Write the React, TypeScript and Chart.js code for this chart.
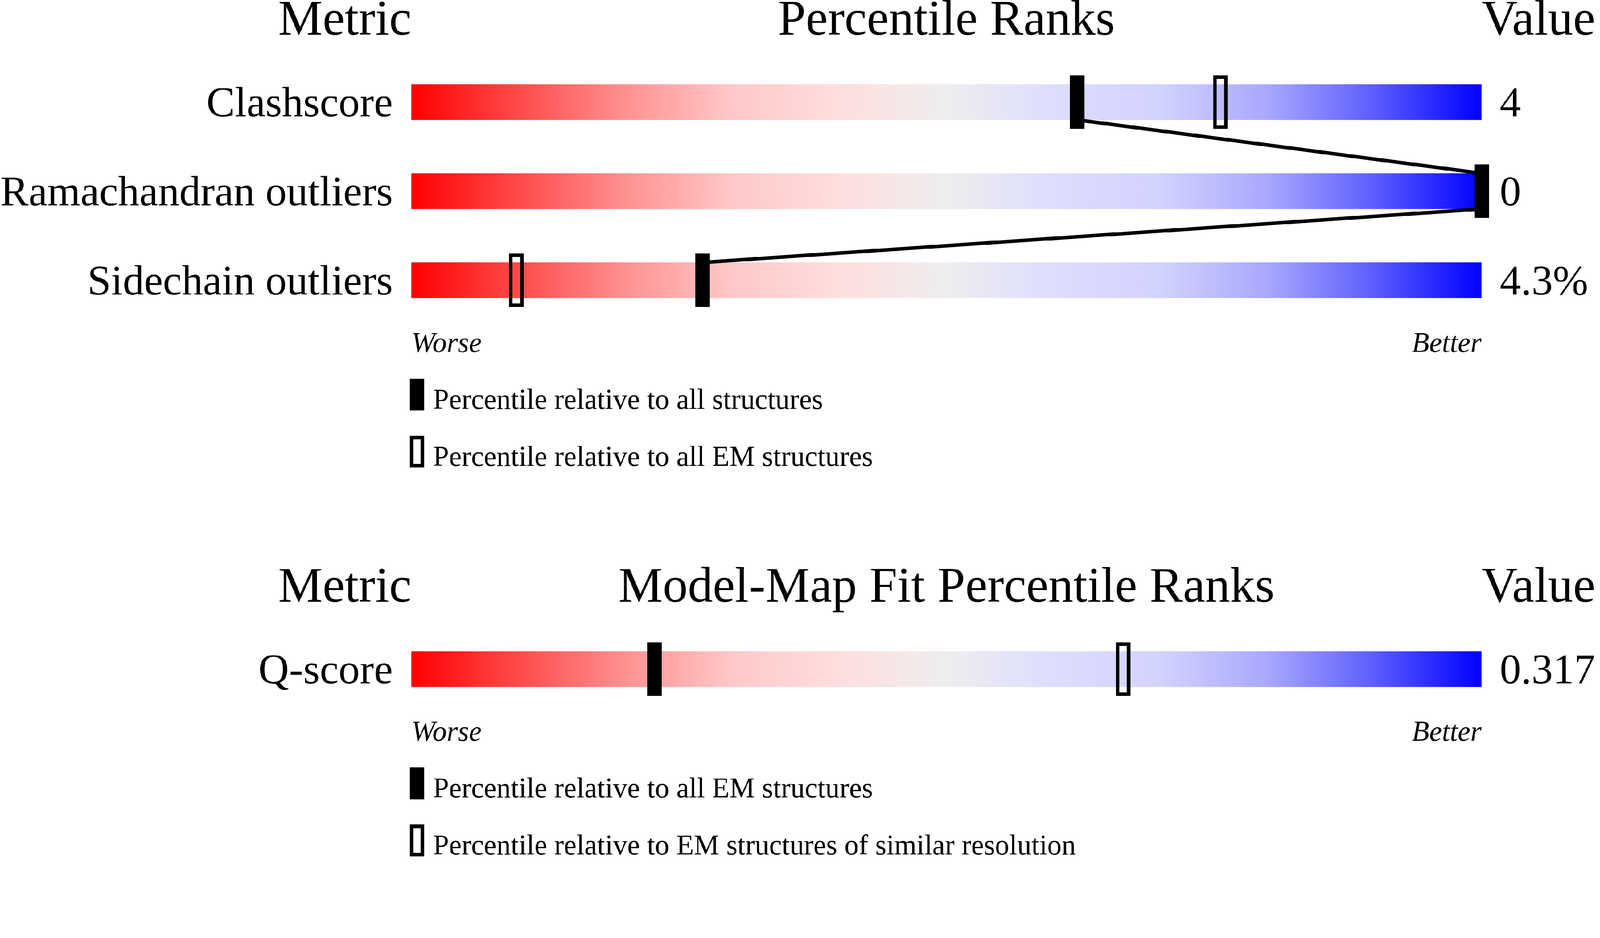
import { useEffect, useRef, useState } from "react";
import { Chart, registerables } from "chart.js";

Chart.register(...registerables);

// ---- data ----
const geometryMetrics = ["Clashscore", "Ramachandran outliers", "Sidechain outliers"];
const geometryValues = ["4", "0", "4.3%"];
const geometryAllPct = [62.2, 100, 27.2];
const geometryEmPct = [75.6, 100, 9.8];
const geometryLegend = [
  "Percentile relative to all structures",
  "Percentile relative to all EM structures",
];

const fitMetrics = ["Q-score"];
const fitValues = ["0.317"];
const fitEmPct = [22.7];
const fitResolutionPct = [66.5];
const fitLegend = [
  "Percentile relative to all EM structures",
  "Percentile relative to EM structures of similar resolution",
];

const headerText = { metric: "Metric", value: "Value", worse: "Worse", better: "Better" };
const geometryTitle = "Percentile Ranks";
const fitTitle = "Model-Map Fit Percentile Ranks";

const pctMin = 0;
const pctMax = 100;

// ---- look ----
const SERIF = '"Liberation Serif", "Times New Roman", serif';
const CANVAS_W = 4485;
const CANVAS_H = 2402;
const PLOT_LEFT = 1153;
const PLOT_RIGHT = 4153;
const BAR_THICKNESS = 100;
const MARKER_W = 41;
const MARKER_H = 150;
const OUTLINE = 10;

const gradientStops: [number, string][] = [
  [0, "#ff0000"],
  [0.1, "#ff4a4a"],
  [0.2, "#ff9191"],
  [0.3, "#ffc8c8"],
  [0.4, "#ffdede"],
  [0.5, "#eeeeee"],
  [0.6, "#ddddff"],
  [0.7, "#d2d2ff"],
  [0.8, "#a8a8ff"],
  [0.9, "#5c5cff"],
  [1, "#0000ff"],
];

function paintMarker(g: CanvasRenderingContext2D, x: number, y: number, w: number, h: number, filled: boolean) {
  g.save();
  if (filled) {
    g.fillStyle = "#000";
    g.fillRect(x, y, w, h);
  } else {
    g.strokeStyle = "#000";
    g.lineWidth = OUTLINE;
    g.strokeRect(x + OUTLINE / 2, y + OUTLINE / 2, w - OUTLINE, h - OUTLINE);
  }
  g.restore();
}

function makeMarker(filled: boolean) {
  const c = document.createElement("canvas");
  c.width = MARKER_W;
  c.height = MARKER_H;
  paintMarker(c.getContext("2d")!, 0, 0, MARKER_W, MARKER_H, filled);
  return c;
}

function barFill(ctx: any) {
  const chart = ctx.chart;
  const xs = chart.scales?.x;
  if (!chart.chartArea || !xs) return "#eeeeee";
  const g = chart.ctx.createLinearGradient(xs.getPixelForValue(pctMin), 0, xs.getPixelForValue(pctMax), 0);
  gradientStops.forEach(([o, c]) => g.addColorStop(o, c));
  return g;
}

// headers, worse/better, legend and the line joining the solid markers
const panelDecor = {
  id: "panelDecor",
  afterDatasetDraw(chart: any, args: any, opts: any) {
    if (args.index !== 0 || !opts.connect) return;
    const pts = chart.getDatasetMeta(2).data;
    const half = BAR_THICKNESS / 2;
    const ctx = chart.ctx;
    ctx.save();
    ctx.strokeStyle = "#000";
    ctx.lineWidth = 10;
    ctx.beginPath();
    for (let i = 0; i < pts.length - 1; i++) {
      ctx.moveTo(pts[i].x, pts[i].y + half);
      ctx.lineTo(pts[i + 1].x, pts[i + 1].y - half);
    }
    ctx.stroke();
    ctx.restore();
  },
  afterDraw(chart: any, _args: any, opts: any) {
    const { ctx, chartArea: a } = chart;
    ctx.save();
    ctx.fillStyle = "#000";
    ctx.textBaseline = "alphabetic";

    ctx.font = `140px ${SERIF}`;
    const hy = a.top - 64;
    ctx.textAlign = "right";
    ctx.fillText(headerText.metric, a.left, hy);
    ctx.textAlign = "center";
    ctx.fillText(opts.title, (a.left + a.right) / 2, hy);
    ctx.textAlign = "left";
    ctx.fillText(headerText.value, a.right, hy);

    ctx.font = `italic 80px ${SERIF}`;
    const wy = a.bottom + 76;
    ctx.textAlign = "left";
    ctx.fillText(headerText.worse, a.left, wy);
    ctx.textAlign = "right";
    ctx.fillText(headerText.better, a.right, wy);

    ctx.font = `80px ${SERIF}`;
    ctx.textAlign = "left";
    opts.legend.forEach((label: string, i: number) => {
      const top = a.bottom + 151 + i * 160;
      paintMarker(ctx, a.left - 4, top, 40, 89, i === 0);
      ctx.fillText(label, a.left + 61, top + 84);
    });
    ctx.restore();
  },
};

type PanelProps = {
  title: string;
  metrics: string[];
  values: string[];
  solidPct: number[];
  hollowPct: number[];
  legend: string[];
  top: number;
  height: number;
  padTop: number;
  padBottom: number;
  connect: boolean;
};

const tickFont = { family: SERIF, size: 119 };

const PercentilePanel = (p: PanelProps) => {
  const canvasRef = useRef<HTMLCanvasElement | null>(null);
  const chartRef = useRef<any>(null);

  useEffect(() => {
    if (!canvasRef.current) return;
    if (chartRef.current) chartRef.current.destroy();

    const solidMarker = makeMarker(true);
    const hollowMarker = makeMarker(false);

    chartRef.current = new Chart(canvasRef.current, {
      type: "bar",
      data: {
        labels: p.metrics,
        datasets: [
          {
            type: "bar",
            data: p.metrics.map(() => [pctMin, pctMax]),
            backgroundColor: barFill,
            borderWidth: 0,
            barThickness: BAR_THICKNESS,
            xAxisID: "x",
            yAxisID: "y",
            order: 2,
          },
          {
            type: "scatter",
            data: p.hollowPct.map((v, i) => ({ x: v, y: p.metrics[i] })),
            pointStyle: hollowMarker,
            pointRadius: 5,
            clip: false,
            xAxisID: "x",
            yAxisID: "y",
            order: 1,
          },
          {
            type: "scatter",
            data: p.solidPct.map((v, i) => ({ x: v, y: p.metrics[i] })),
            pointStyle: solidMarker,
            pointRadius: 5,
            clip: false,
            xAxisID: "x",
            yAxisID: "y",
            order: 0,
          },
        ] as any,
      },
      options: {
        indexAxis: "y",
        responsive: false,
        devicePixelRatio: 1,
        animation: false,
        events: [],
        layout: { padding: { top: p.padTop, bottom: p.padBottom, left: 0, right: 0 } },
        scales: {
          x: { type: "linear", min: pctMin, max: pctMax, display: false },
          y: {
            type: "category",
            position: "left",
            offset: true,
            grid: { display: false, drawTicks: false },
            border: { display: false },
            ticks: { font: tickFont, color: "#000", padding: 52, labelOffset: 9, autoSkip: false },
            afterFit: (s: any) => {
              s.width = PLOT_LEFT;
            },
          },
          yValue: {
            type: "category",
            position: "right",
            labels: p.values,
            offset: true,
            grid: { display: false, drawTicks: false },
            border: { display: false },
            ticks: { font: tickFont, color: "#000", padding: 51, labelOffset: 9, autoSkip: false },
            afterFit: (s: any) => {
              s.width = CANVAS_W - PLOT_RIGHT;
            },
          },
        },
        plugins: {
          legend: { display: false },
          tooltip: { enabled: false },
          panelDecor: { title: p.title, legend: p.legend, connect: p.connect },
        } as any,
      } as any,
      plugins: [panelDecor],
    });

    return () => chartRef.current?.destroy();
  }, [p]);

  return (
    <canvas
      ref={canvasRef}
      width={CANVAS_W}
      height={p.height}
      style={{ position: "absolute", left: 0, top: p.top, display: "block" }}
    />
  );
};

const geometryPanel: PanelProps = {
  title: geometryTitle,
  metrics: geometryMetrics,
  values: geometryValues,
  solidPct: geometryAllPct,
  hollowPct: geometryEmPct,
  legend: geometryLegend,
  top: 0,
  height: 1400,
  padTop: 161,
  padBottom: 489,
  connect: true,
};

const fitPanel: PanelProps = {
  title: fitTitle,
  metrics: fitMetrics,
  values: fitValues,
  solidPct: fitEmPct,
  hollowPct: fitResolutionPct,
  legend: fitLegend,
  top: 1400,
  height: 1002,
  padTop: 351,
  padBottom: 401,
  connect: false,
};

// the page may be narrower than the 4485px design (device scale), so fit it
const fitScale = () =>
  Math.min(window.innerWidth / CANVAS_W, window.innerHeight / CANVAS_H, 1);

export default function App() {
  const [scale, setScale] = useState(fitScale);

  useEffect(() => {
    const onResize = () => setScale(fitScale());
    window.addEventListener("resize", onResize);
    return () => window.removeEventListener("resize", onResize);
  }, []);

  return (
    <div
      style={{
        position: "absolute",
        left: 0,
        top: 0,
        width: CANVAS_W,
        height: CANVAS_H,
        background: "#fff",
        overflow: "hidden",
        transform: `scale(${scale})`,
        transformOrigin: "0 0",
      }}
    >
      <PercentilePanel {...geometryPanel} />
      <PercentilePanel {...fitPanel} />
    </div>
  );
}
